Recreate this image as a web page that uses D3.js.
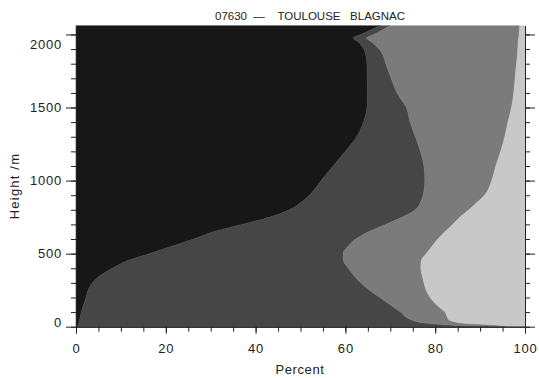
<!DOCTYPE html>
<html>
<head>
<meta charset="utf-8">
<script src="https://cdn.jsdelivr.net/npm/d3@7"></script>
<style>
  html, body { margin: 0; padding: 0; background: #fff; }
  svg { display: block; font-family: "Liberation Sans", Arial, sans-serif; }
</style>
</head>
<body>
<svg id="chart" width="539" height="378"></svg>
<script>
// ---- data ----
const title = "07630  \u2014    TOULOUSE   BLAGNAC";
const xLabel = "Percent";
const yLabel = "Height /m";
const heights = [0, 10, 25, 50, 100, 150, 200, 250, 300, 350, 400, 450, 500, 550, 600, 650, 700, 750, 800, 850, 900, 1000, 1100, 1200, 1300, 1400, 1500, 1600, 1700, 1800, 1850, 1900, 1950, 1975, 2000, 2060];
const class1 = [0.3, 0.4, 0.6, 0.8, 1.2, 1.7, 2.2, 2.7, 3.7, 5.4, 8.1, 11.3, 16.3, 21.3, 26.2, 30.6, 37.0, 43.2, 47.5, 50.1, 52.0, 54.6, 57.3, 60.0, 62.5, 64.0, 64.8, 64.9, 64.9, 64.8, 64.6, 64.1, 62.8, 61.7, 63.4, 67.7];
const class2 = [91.7, 83.6, 77.2, 73.7, 71.1, 68.3, 65.5, 62.7, 59.7, 56.5, 52.6, 48.3, 43.2, 39.3, 36.1, 34.6, 32.0, 29.5, 28.1, 26.6, 25.3, 23.1, 20.2, 16.7, 13.1, 10.4, 8.8, 6.6, 5.3, 4.2, 3.9, 3.4, 3.0, 3.0, 2.9, 2.2];
const class3 = [4.0, 10.0, 8.2, 8.5, 9.9, 10.3, 11.2, 12.6, 14.1, 15.2, 16.1, 17.3, 18.5, 18.7, 18.3, 17.0, 14.9, 12.8, 11.9, 12.6, 13.7, 14.9, 16.0, 17.9, 19.9, 21.8, 23.4, 26.0, 27.6, 29.1, 29.8, 30.9, 32.7, 33.9, 32.4, 28.9];
const class4 = [4.0, 6.0, 14.0, 17.0, 17.8, 19.7, 21.1, 22.0, 22.5, 22.9, 23.2, 23.1, 22.0, 20.7, 19.4, 17.8, 16.1, 14.5, 12.5, 10.7, 9.0, 7.4, 6.5, 5.4, 4.5, 3.8, 3.0, 2.5, 2.2, 1.9, 1.7, 1.6, 1.5, 1.4, 1.3, 1.2];
const seriesKeys = ["class1", "class2", "class3", "class4"];
const seriesColors = ["#171717", "#464646", "#7b7b7b", "#c8c8c8"];
const xTicks = [0, 20, 40, 60, 80, 100];
const yTicks = [0, 500, 1000, 1500, 2000];

(function () {
// ---- layout ----
const svg = d3.select("#chart");
const mLeft = 76, mRight = 525, mTop = 25.7, mBottom = 326.7;
const x = d3.scaleLinear().domain([0, 100]).range([mLeft, mRight]);
const y = d3.scaleLinear().domain([0, 2060]).range([mBottom, mTop]);

const rows = heights.map((h, i) => ({
  h, class1: class1[i], class2: class2[i], class3: class3[i], class4: class4[i]
}));
const stacked = d3.stack().keys(seriesKeys)(rows);

const area = d3.area()
  .curve(d3.curveMonotoneY)
  .y(d => y(d.data.h))
  .x0(d => x(d[0]))
  .x1(d => x(d[1]));

svg.append("g").selectAll("path")
  .data(stacked)
  .join("path")
  .attr("d", area)
  .attr("fill", (d, i) => seriesColors[i])
  .attr("stroke", (d, i) => seriesColors[i])
  .attr("stroke-width", 0.5);

// ---- axes ----
const axisColor = "#222";
const tickFont = "13px";

function styleAxis(g) {
  g.selectAll("path.domain").attr("stroke", axisColor);
  g.selectAll(".tick line").attr("stroke", axisColor);
  g.selectAll(".tick text").attr("fill", axisColor)
    .style("font-size", tickFont).style("letter-spacing", "0.8px")
    .style("font-family", "'Liberation Sans', Arial, sans-serif");
}

// bottom minor
svg.append("g").attr("transform", `translate(0,${mBottom})`)
  .call(d3.axisBottom(x).tickValues(d3.range(0, 101, 5)).tickSize(5).tickFormat("").tickSizeOuter(0))
  .call(styleAxis);
// bottom major
svg.append("g").attr("transform", `translate(0,${mBottom})`)
  .call(d3.axisBottom(x).tickValues(xTicks).tickSize(7).tickPadding(10).tickSizeOuter(0).tickFormat(d3.format("d")))
  .call(styleAxis);

// left minor
svg.append("g").attr("transform", `translate(${mLeft},0)`)
  .call(d3.axisLeft(y).tickValues(d3.range(0, 2001, 100)).tickSize(5).tickFormat("").tickSizeOuter(0))
  .call(styleAxis);
// left major
const ya = svg.append("g").attr("transform", `translate(${mLeft},0)`)
  .call(d3.axisLeft(y).tickValues(yTicks).tickSize(10).tickPadding(4).tickSizeOuter(0).tickFormat(d3.format("d")))
  .call(styleAxis);
ya.selectAll(".tick text")
  .attr("dy", d => d === 0 ? "-0.05em" : d === 2000 ? "1.05em" : "0.32em");

// right minor + major (no labels)
svg.append("g").attr("transform", `translate(${mRight},0)`)
  .call(d3.axisRight(y).tickValues(d3.range(0, 2001, 100)).tickSize(5).tickFormat("").tickSizeOuter(0))
  .call(styleAxis);
svg.append("g").attr("transform", `translate(${mRight},0)`)
  .call(d3.axisRight(y).tickValues(yTicks).tickSize(10).tickFormat("").tickSizeOuter(0))
  .call(styleAxis);

// ---- texts ----
svg.append("text")
  .attr("x", 215).attr("y", 20)
  .attr("fill", axisColor)
  .style("font-size", "11.5px")
  .style("white-space", "pre")
  .text(title);

svg.append("text")
  .attr("x", 300).attr("y", 374)
  .attr("text-anchor", "middle")
  .attr("fill", axisColor)
  .style("font-size", "13px")
  .style("letter-spacing", "0.6px")
  .text(xLabel);

svg.append("text")
  .attr("transform", "translate(19,186) rotate(-90)")
  .attr("text-anchor", "middle")
  .attr("fill", axisColor)
  .style("font-size", "13px")
  .style("letter-spacing", "1.2px")
  .style("white-space", "pre")
  .text(yLabel);
})();
</script>
</body>
</html>
